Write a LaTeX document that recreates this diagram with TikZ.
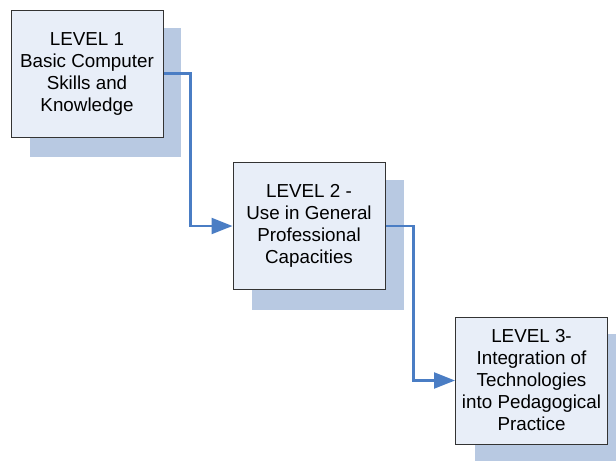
\documentclass[tikz,border=0pt]{standalone}
\usepackage{fontspec}
\setmainfont{Liberation Sans}
\usetikzlibrary{arrows.meta}
\definecolor{boxfill}{HTML}{E8EEF8}
\definecolor{shadowc}{HTML}{B8C9E2}
\definecolor{linec}{HTML}{4A7DC4}
\begin{document}
\begin{tikzpicture}[x=1pt,y=-1pt,
  levelbox/.style={draw=black!80, line width=1pt, fill=boxfill, minimum width=152pt, minimum height=127pt, inner sep=0pt, align=center, font=\fontsize{18.8}{22}\selectfont},
  conn/.style={draw=linec, line width=2.2pt, -{Triangle[length=21pt,width=16pt]}}]
\useasboundingbox (0,0) rectangle (616,461);
\fill[shadowc] (30,28) rectangle (181,157);
\fill[shadowc] (252,180) rectangle (404,310);
\fill[shadowc] (475,334) rectangle (616,461);
\node[levelbox] (b1) at (87,73.5) {LEVEL 1\\Basic Computer\\Skills and\\Knowledge};
\node[levelbox] (b2) at (309,226) {LEVEL 2 -\\Use in General\\Professional\\Capacities};
\node[levelbox] (b3) at (531.5,380.5) {LEVEL 3-\\Integration of\\Technologies\\into Pedagogical\\Practice};
\draw[conn] (b1.east) -- ++(27,0) |- (b2.west);
\draw[conn] (b2.east) -- ++(28,0) |- (b3.west);
\end{tikzpicture}
\end{document}
